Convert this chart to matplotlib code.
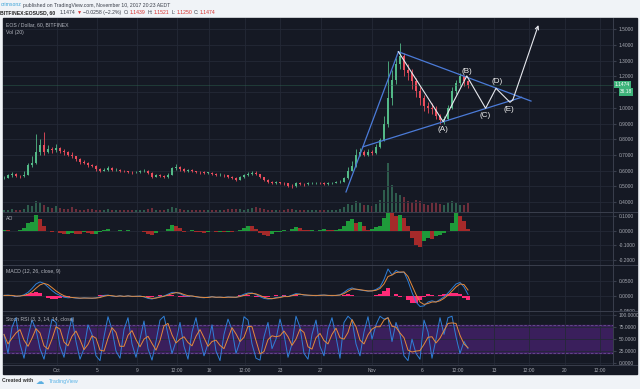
import numpy as np
import matplotlib.pyplot as plt
import matplotlib.transforms as mtransforms
from matplotlib.lines import Line2D
from matplotlib.patches import Rectangle

plt.rcParams['font.family'] = ['Liberation Sans', 'DejaVu Sans']

# EOS/USD hourly, one bar every ~4 px of the screenshot
closes = [0.553, 0.57, 0.578, 0.566, 0.565, 0.572, 0.636, 0.65, 0.72, 0.76,
          0.72, 0.735, 0.73, 0.745, 0.725, 0.72, 0.70, 0.69, 0.675, 0.655,
          0.648, 0.636, 0.63, 0.61, 0.60, 0.605, 0.617, 0.602, 0.604, 0.60,
          0.595, 0.592, 0.588, 0.59, 0.596, 0.60, 0.585, 0.562, 0.57, 0.566,
          0.56, 0.575, 0.615, 0.625, 0.61, 0.60, 0.602, 0.598, 0.592, 0.588,
          0.585, 0.585, 0.578, 0.572, 0.575, 0.57, 0.562, 0.555, 0.54, 0.56,
          0.572, 0.58, 0.585, 0.578, 0.56, 0.54, 0.528, 0.523, 0.525, 0.52,
          0.518, 0.505, 0.50, 0.52, 0.515, 0.513, 0.518, 0.52, 0.523, 0.52,
          0.515, 0.518, 0.522, 0.525, 0.53, 0.55, 0.60, 0.63, 0.70, 0.72,
          0.70, 0.72, 0.71, 0.75, 0.795, 0.90, 1.06, 1.18, 1.28, 1.33,
          1.24, 1.22, 1.17, 1.11, 1.06, 1.01, 1.00, 0.99, 0.95, 0.92,
          0.93, 1.00, 1.11, 1.16, 1.20, 1.17, 1.1474]

highs = [0.565, 0.58, 0.59, 0.582, 0.575, 0.60, 0.65, 0.69, 0.83, 0.80,
         0.845, 0.76, 0.75, 0.77, 0.75, 0.735, 0.725, 0.72, 0.695, 0.68,
         0.665, 0.655, 0.645, 0.635, 0.615, 0.615, 0.63, 0.62, 0.615, 0.612,
         0.605, 0.60, 0.598, 0.60, 0.605, 0.612, 0.605, 0.59, 0.58, 0.578,
         0.57, 0.585, 0.625, 0.64, 0.63, 0.615, 0.612, 0.608, 0.60, 0.598,
         0.595, 0.592, 0.59, 0.582, 0.585, 0.58, 0.575, 0.565, 0.558, 0.568,
         0.58, 0.59, 0.595, 0.60, 0.58, 0.56, 0.545, 0.532, 0.535, 0.53,
         0.528, 0.52, 0.512, 0.53, 0.525, 0.522, 0.525, 0.528, 0.53, 0.528,
         0.525, 0.525, 0.53, 0.532, 0.54, 0.56, 0.62, 0.66, 0.74, 0.745,
         0.73, 0.735, 0.73, 0.77, 0.81, 0.95, 1.30, 1.24, 1.32, 1.415,
         1.35, 1.28, 1.25, 1.19, 1.13, 1.08, 1.04, 1.03, 1.01, 0.96,
         0.95, 1.02, 1.13, 1.18, 1.22, 1.21, 1.18]

lows = [0.545, 0.55, 0.562, 0.558, 0.555, 0.56, 0.57, 0.62, 0.64, 0.70,
        0.70, 0.71, 0.71, 0.72, 0.715, 0.70, 0.69, 0.68, 0.66, 0.645,
        0.64, 0.625, 0.62, 0.60, 0.59, 0.595, 0.60, 0.595, 0.595, 0.59,
        0.588, 0.585, 0.58, 0.582, 0.585, 0.592, 0.58, 0.555, 0.558, 0.558,
        0.552, 0.555, 0.57, 0.605, 0.60, 0.592, 0.592, 0.59, 0.585, 0.58,
        0.578, 0.578, 0.57, 0.565, 0.565, 0.562, 0.555, 0.545, 0.535, 0.538,
        0.555, 0.568, 0.575, 0.57, 0.555, 0.535, 0.52, 0.515, 0.515, 0.512,
        0.51, 0.498, 0.492, 0.498, 0.508, 0.505, 0.508, 0.512, 0.515, 0.512,
        0.508, 0.51, 0.512, 0.518, 0.52, 0.528, 0.545, 0.595, 0.62, 0.69,
        0.69, 0.695, 0.70, 0.705, 0.745, 0.79, 0.88, 1.02, 1.15, 1.25,
        1.20, 1.18, 1.12, 1.07, 1.02, 0.98, 0.97, 0.96, 0.93, 0.90,
        0.90, 0.92, 0.99, 1.09, 1.14, 1.14, 1.125]

volumes = [8, 10, 12, 9, 10, 14, 30, 25, 45, 40,
           30, 22, 18, 25, 15, 12, 14, 20, 12, 10,
           9, 11, 12, 10, 8, 9, 12, 8, 9, 7,
           8, 9, 8, 10, 9, 8, 12, 15, 10, 9,
           10, 14, 20, 18, 12, 10, 9, 8, 10, 8,
           9, 8, 10, 9, 8, 10, 12, 11, 14, 12,
           10, 12, 15, 22, 16, 14, 10, 9, 8, 10,
           9, 12, 14, 10, 8, 9, 8, 10, 9, 8,
           9, 10, 8, 9, 12, 20, 35, 30, 45, 38,
           30, 28, 25, 35, 50, 90, 200, 110, 80, 70,
           60, 45, 40, 50, 45, 35, 30, 38, 42, 35,
           30, 40, 45, 38, 30, 28, 36.18]

ao = [0.005, 0.004, 0.0, -0.003, 0.004, 0.02, 0.05, 0.06, 0.11, 0.08,
      0.03, -0.005, -0.01, -0.005, -0.015, -0.025, -0.02, -0.015, -0.02, -0.022,
      -0.01, -0.015, -0.025, -0.02, -0.01, 0.008, 0.01, 0.0, -0.004, 0.002,
      -0.003, 0.003, -0.005, -0.002, 0.0, -0.01, -0.025, -0.03, -0.015, -0.005,
      0.0, 0.015, 0.04, 0.035, 0.02, -0.008, -0.005, 0.002, -0.008, -0.012,
      -0.015, -0.01, -0.005, -0.012, -0.008, -0.01, -0.006, -0.01, -0.004, 0.005,
      0.02, 0.035, 0.03, 0.01, -0.015, -0.03, -0.035, -0.025, -0.01, -0.008,
      0.005, -0.005, 0.015, 0.025, 0.02, 0.008, 0.003, 0.005, 0.0, 0.008,
      0.01, 0.005, 0.002, 0.005, 0.01, 0.03, 0.07, 0.08, 0.05, 0.06,
      0.03, 0.005, 0.01, 0.025, 0.03, 0.09, 0.13, 0.12, 0.10, 0.11,
      0.09, 0.03, -0.05, -0.10, -0.11, -0.07, -0.05, -0.06, -0.04, -0.03,
      -0.015, -0.005, 0.05, 0.12, 0.10, 0.07, 0.01]

macd = [0.002, 0.003, 0.001, -0.002, 0.0, 0.004, 0.012, 0.025, 0.04, 0.047,
        0.042, 0.03, 0.018, 0.008, 0.002, -0.004, -0.006, -0.005, -0.007, -0.008,
        -0.006, -0.007, -0.008, -0.006, -0.003, 0.002, 0.003, 0.0, -0.002, 0.001,
        -0.002, 0.001, -0.002, -0.001, 0.0, -0.003, -0.008, -0.01, -0.006, -0.002,
        0.0, 0.006, 0.012, 0.012, 0.008, 0.001, -0.001, 0.0, -0.003, -0.005,
        -0.006, -0.004, -0.002, -0.005, -0.004, -0.005, -0.003, -0.004, -0.005, 0.0,
        0.006, 0.01, 0.01, 0.005, -0.002, -0.008, -0.01, -0.009, -0.005, -0.004,
        0.0, -0.002, 0.003, 0.008, 0.006, 0.003, 0.002, 0.002, 0.001, 0.003,
        0.003, 0.002, 0.001, 0.002, 0.004, 0.012, 0.022, 0.027, 0.022, 0.02,
        0.018, 0.016, 0.017, 0.022, 0.03, 0.055, 0.09, 0.07, 0.085, 0.078,
        0.08, 0.05, 0.012, -0.02, -0.035, -0.033, -0.02, -0.016, -0.02, -0.012,
        -0.003, 0.01, 0.025, 0.04, 0.045, 0.03, 0.005]

signal = [0.002, 0.002, 0.002, 0.0, 0.0, 0.002, 0.006, 0.014, 0.026, 0.037,
          0.042, 0.038, 0.028, 0.017, 0.008, 0.001, -0.003, -0.005, -0.006, -0.007,
          -0.007, -0.007, -0.007, -0.007, -0.005, -0.001, 0.002, 0.001, -0.001, 0.0,
          -0.001, 0.0, -0.001, -0.001, -0.001, -0.002, -0.005, -0.008, -0.007, -0.004,
          -0.001, 0.003, 0.008, 0.011, 0.01, 0.005, 0.001, 0.0, -0.002, -0.004,
          -0.005, -0.005, -0.003, -0.004, -0.004, -0.005, -0.004, -0.004, -0.004, -0.002,
          0.002, 0.007, 0.009, 0.007, 0.002, -0.004, -0.008, -0.009, -0.007, -0.005,
          -0.002, -0.002, 0.001, 0.005, 0.006, 0.004, 0.003, 0.002, 0.002, 0.002,
          0.003, 0.002, 0.002, 0.002, 0.003, 0.008, 0.016, 0.023, 0.023, 0.021,
          0.019, 0.017, 0.017, 0.019, 0.025, 0.04, 0.065, 0.07, 0.078, 0.08,
          0.08, 0.065, 0.035, 0.005, -0.02, -0.028, -0.025, -0.02, -0.02, -0.016,
          -0.008, 0.003, 0.016, 0.03, 0.04, 0.038, 0.02]

hist = [0.0, 0.001, -0.001, -0.002, 0.0, 0.002, 0.006, 0.011, 0.014, 0.01,
        0.0, -0.008, -0.01, -0.009, -0.006, -0.005, -0.003, 0.0, -0.001, -0.001,
        0.001, 0.0, -0.001, 0.001, 0.002, 0.003, 0.001, -0.001, -0.001, 0.001,
        -0.001, 0.001, -0.001, 0.0, 0.001, -0.001, -0.003, -0.002, 0.001, 0.002,
        0.001, 0.003, 0.004, 0.001, -0.002, -0.004, -0.002, 0.0, -0.001, -0.001,
        -0.001, 0.001, 0.001, -0.001, 0.0, 0.0, 0.001, 0.0, -0.001, 0.002,
        0.004, 0.003, 0.001, -0.002, -0.004, -0.004, -0.002, 0.0, 0.002, 0.001,
        0.002, 0.0, 0.002, 0.003, 0.0, -0.001, -0.001, 0.0, -0.001, 0.001,
        0.0, 0.0, -0.001, 0.0, 0.001, 0.004, 0.006, 0.004, -0.001, -0.001,
        -0.001, -0.001, 0.0, 0.003, 0.005, 0.015, 0.025, 0.0, 0.007, -0.002,
        0.0, -0.015, -0.023, -0.025, -0.015, -0.005, 0.005, 0.004, 0.0, 0.004,
        0.005, 0.007, 0.009, 0.01, 0.005, -0.008, -0.015]

stoch_k = [60, 20, 75, 95, 40, 10, 55, 90, 70, 30,
           8, 50, 92, 85, 35, 12, 60, 95, 45, 8,
           30, 80, 60, 15, 5, 55, 97, 70, 25, 10,
           70, 95, 40, 12, 50, 88, 30, 6, 45, 90,
           98, 60, 20, 45, 85, 35, 8, 65, 95, 50,
           15, 40, 80, 25, 5, 60, 92, 70, 20, 45,
           97, 90, 40, 10, 6, 55, 85, 30, 50, 92,
           60, 12, 40, 98, 75, 20, 8, 60, 90, 35,
           15, 70, 95, 55, 10, 85, 98, 90, 40, 15,
           65, 97, 50, 80, 98, 92, 95, 45, 85, 60,
           15, 5, 50, 20, 8, 90, 65, 10, 50, 95,
           60, 95, 98, 55, 20, 45, 30]

stoch_d = [60, 40, 52, 63, 70, 48, 35, 52, 72, 63,
           36, 29, 50, 76, 71, 44, 36, 56, 67, 49,
           28, 39, 57, 52, 27, 25, 52, 74, 64, 35,
           35, 58, 68, 49, 34, 50, 56, 41, 27, 47,
           78, 83, 59, 42, 50, 55, 43, 36, 56, 70,
           53, 35, 45, 48, 37, 30, 52, 74, 61, 45,
           54, 77, 76, 47, 19, 24, 49, 57, 55, 57,
           67, 55, 37, 50, 71, 64, 34, 29, 53, 62,
           47, 40, 60, 73, 53, 50, 64, 91, 76, 48,
           40, 59, 71, 76, 76, 90, 95, 77, 75, 63,
           53, 27, 23, 25, 26, 39, 54, 55, 42, 52,
           68, 83, 84, 83, 58, 40, 32]

# date ticks along the bottom, in bar units
tick_pos = [13.25, 23.25, 33.25, 43.25, 51.25, 60.25, 69, 79.25, 92,
            104.5, 113.5, 122.5, 131.25, 140.25, 149]
tick_labels = ['Oct', '5', '9', '12:00', '16', '12:00', '23', '27', 'Nov',
               '6', '12:00', '13', '12:00', '20', '12:00']

# drawings on the chart: triangle trend lines and the (A)-(E) wave count
trend_x = [[85.5, 98.6], [98.6, 131.75], [89.8, 129.4]]
trend_y = [[0.464, 1.357], [1.357, 1.043], [0.752, 1.067]]
wave_x = [98.6, 109.8, 115.7, 120.4, 123.0, 126.5, 127.2]
wave_y = [1.357, 0.911, 1.203, 0.997, 1.124, 1.035, 1.05]
target_x, target_y = 133.6, 1.527
wave_labels = ['(A)', '(B)', '(C)', '(D)', '(E)']
label_x = [109.8, 115.7, 120.4, 123.2, 126.25]
label_y = [0.859, 1.23, 0.948, 1.166, 0.986]

BG = '#151924'
GRID = '#242937'
SEP = '#3a3f4d'
TXT = '#a7aab3'
UP, DOWN = '#53b987', '#eb4d5c'
FS = 3.5

W, H = 640, 389
fig = plt.figure(figsize=(6.4, 3.89), dpi=100, facecolor='#f0f3f7')


def rect(x0, y0, x1, y1):
    return [x0 / W, 1 - y1 / H, (x1 - x0) / W, (y1 - y0) / H]


fig.patches.append(Rectangle((3 / W, 1 - 374 / H), 634 / W, 356 / H,
                             transform=fig.transFigure, color=BG, zorder=-5))

ax_p = fig.add_axes(rect(3, 18, 613, 212))
ax_ao = fig.add_axes(rect(3, 212, 613, 265), sharex=ax_p)
ax_m = fig.add_axes(rect(3, 265, 613, 311), sharex=ax_p)
ax_s = fig.add_axes(rect(3, 311, 613, 365), sharex=ax_p)

# volume overlay at the bottom of the price pane
ax_v = ax_p.twinx()

n = len(closes)
x = np.arange(n)
c = np.array(closes)
o = np.array([closes[0]] + closes[:-1])
up = c >= o
colors = np.where(up, UP, DOWN)

for ax in (ax_p, ax_ao, ax_m, ax_s):
    ax.set_facecolor(BG)
    for s in ax.spines.values():
        s.set_visible(False)
    ax.yaxis.tick_right()
    ax.tick_params(axis='y', length=2, color=SEP, labelcolor=TXT, labelsize=FS, pad=2,
                   left=False, labelleft=False, right=True, labelright=True)
    ax.tick_params(axis='x', length=0, labelbottom=False)
    ax.set_xticks(tick_pos)
    ax.grid(True, color=GRID, lw=0.6)
    ax.set_axisbelow(True)

ax_p.set_xlim(-0.25, 152.25)

ax_v.bar(x, volumes, width=0.7, color=colors, alpha=0.42)
ax_v.set_ylim(0, 800)
ax_v.yaxis.set_visible(False)
for s in ax_v.spines.values():
    s.set_visible(False)
ax_v.patch.set_facecolor(BG)
ax_p.set_zorder(ax_v.get_zorder() + 1)
ax_p.patch.set_visible(False)

# candles
lo_body = np.minimum(o, c)
body = np.maximum(np.abs(c - o), 0.003)
ax_p.vlines(x, np.minimum(lows, lo_body), np.maximum(highs, np.maximum(o, c)),
            colors=colors, lw=0.6)
ax_p.bar(x, body, bottom=lo_body, width=0.7, color=colors)
ax_p.axhline(closes[-1], color='#2e6a52', lw=0.5, alpha=0.6)

ax_p.set_ylim(0.3363, 1.572)
pt = np.round(np.arange(0.4, 1.51, 0.1), 1)
ax_p.set_yticks(pt)
ax_p.set_yticklabels(['' if v == 1.1 else f'{v:.4f}' for v in pt])

for xs, ys in zip(trend_x, trend_y):
    ax_p.plot(xs, ys, color='#4b7bd8', lw=0.9)
ax_p.plot(wave_x, wave_y, color='#e6e8ee', lw=0.8)
ax_p.annotate('', xy=(target_x, target_y), xytext=(wave_x[-1], wave_y[-1]),
              arrowprops=dict(arrowstyle='->', color='#e6e8ee', lw=0.8,
                              shrinkA=0, shrinkB=0, mutation_scale=6))
for lab, lx, ly in zip(wave_labels, label_x, label_y):
    ax_p.text(lx, ly, lab, color='#f0f0f0', fontsize=5.8, ha='center', va='center')

blend = mtransforms.blended_transform_factory(ax_p.transAxes, ax_p.transData)
ax_p.text(1.003, closes[-1], f'{closes[-1]:.4f}', transform=blend, fontsize=FS,
          color='white', va='center', ha='left',
          bbox=dict(boxstyle='square,pad=0.25', fc='#3db37a', ec='none'))
ax_p.annotate(f'{volumes[-1]:.2f}', xy=(1.0, closes[-1]), xycoords=blend,
              xytext=(5, -5.2), textcoords='offset points', fontsize=FS,
              color='white', va='center', ha='left',
              bbox=dict(boxstyle='square,pad=0.25', fc='#3db37a', ec='none'))

# Awesome Oscillator
ao_arr = np.array(ao)
ao_col = np.where(np.diff(ao_arr, prepend=ao_arr[0]) >= 0, '#1f9a3a', '#a52a2a')
ax_ao.bar(x, ao, width=1.0, color=ao_col)
ax_ao.set_ylim(-0.2366, 0.129)
ax_ao.set_yticks([-0.2, -0.1, 0.0, 0.1])
ax_ao.set_yticklabels(['-0.2000', '-0.1000', '0.0000', '0.1000'])

# MACD
ax_m.bar(x, hist, width=1.0, color='#ff2a78')
ax_m.plot(x, macd, color='#2f7fd8', lw=0.7)
ax_m.plot(x, signal, color='#e58a3c', lw=0.7)
ax_m.set_ylim(-0.05, 0.1033)
ax_m.set_yticks([-0.05, 0.0, 0.05])
ax_m.set_yticklabels(['-0.0500', '0.0000', '0.0500'])
# the lowest MACD label is cut by the pane border, as on the screenshot
clip = mtransforms.TransformedBbox(
    mtransforms.Bbox.from_extents(613 / W, 1 - 311 / H, 637 / W, 1 - 265 / H),
    fig.transFigure)
for lbl in ax_m.get_yticklabels():
    lbl.set_clip_box(clip)
    lbl.set_clip_on(True)

# Stoch RSI
ax_s.axhspan(20, 80, color='#3a1f5c', zorder=0.5)
for lvl in (20, 80):
    ax_s.axhline(lvl, color='#6c4f92', lw=0.6, ls=(0, (3, 2)))
ax_s.plot(x, stoch_k, color='#2f7fd8', lw=0.7)
ax_s.plot(x, stoch_d, color='#e58a3c', lw=0.7)
ax_s.set_ylim(-4.2, 109)
ax_s.set_yticks([0, 25, 50, 75, 100])
ax_s.set_yticklabels(['0.0000', '25.0000', '50.0000', '75.0000', '100.0000'])
ax_s.tick_params(axis='x', labelbottom=True, labelsize=FS, labelcolor=TXT, pad=2)
ax_s.set_xticklabels(tick_labels)

# pane separators
for yy in (212, 265, 311, 365):
    fig.add_artist(Line2D([3 / W, 637 / W], [1 - yy / H] * 2, color=SEP, lw=0.7))
fig.add_artist(Line2D([613 / W] * 2, [1 - 18 / H, 1 - 365 / H], color=SEP, lw=0.7))

# pane titles
for yy, t in [(25, 'EOS / Dollar, 60, BITFINEX'), (32.5, 'Vol (20)'), (219, 'AO'),
              (271.5, 'MACD (12, 26, close, 9)'), (319, 'Stoch RSI (3, 3, 14, 14, close)')]:
    fig.text(6 / W, 1 - yy / H, t, fontsize=3.7, color='#b4b7c0', va='center')

renderer = fig.canvas.get_renderer()


def put_row(y, pieces, x0=0.5):
    # lay text pieces left to right, each one starting after the previous one
    xx = x0
    for t, col, wt, gap in pieces:
        tx = fig.text(xx / W, 1 - y / H, t, fontsize=3.7, color=col, weight=wt,
                      va='center')
        xx = tx.get_window_extent(renderer).x1 + gap


red = '#d8312e'
dark = '#3a3f4a'
put_row(5, [('crimsonz', '#3aa3d8', 'normal', 1.5),
            ('published on TradingView.com, November 10, 2017 20:23 AEDT', dark, 'normal', 0)])
put_row(12.3, [('BITFINEX:EOSUSD, 60', '#222', 'bold', 4),
               ('1.1474', dark, 'normal', 1.5), ('\u25bc', red, 'normal', 1),
               ('\u22120.0258 (\u22122.2%)', dark, 'normal', 2),
               ('O:', dark, 'normal', 1), ('1.1439', red, 'normal', 2),
               ('H:', dark, 'normal', 1), ('1.1521', red, 'normal', 2),
               ('L:', dark, 'normal', 1), ('1.1250', red, 'normal', 2),
               ('C:', dark, 'normal', 1), ('1.1474', red, 'normal', 0)])

# footer
put_row(381, [('Created with', '#333', 'bold', 3)], x0=2)
fig.text(36 / W, 1 - 381 / H, '\u2601', fontsize=6, color='#5aaee0', va='center',
         family='DejaVu Sans')
fig.text(49 / W, 1 - 381 / H, 'TradingView', fontsize=3.9, color='#5ab4e8', va='center')

fig.savefig('out.png', dpi=100, facecolor=fig.get_facecolor())
